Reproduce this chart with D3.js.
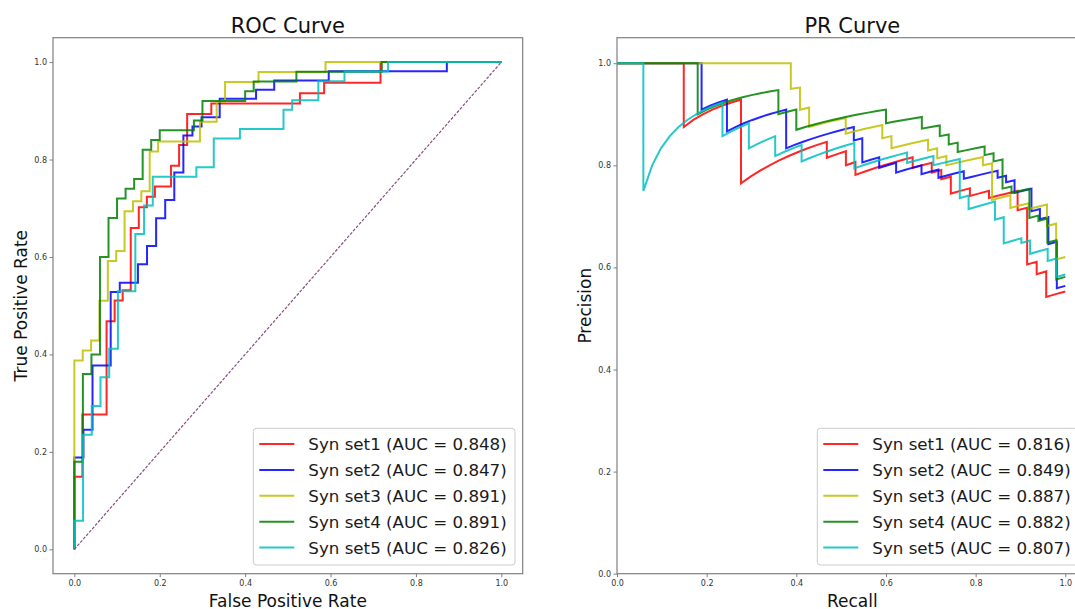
<!DOCTYPE html>
<html>
<head>
<meta charset="utf-8">
<script src="https://cdn.jsdelivr.net/npm/d3@7"></script>
<style>
  body { margin: 0; background: #fff; }
  svg { display: block; font-family: "DejaVu Sans", sans-serif; }
</style>
</head>
<body>
<svg id="chart" width="1075" height="609"></svg>
<script>
const seriesNames = ["Syn set1", "Syn set2", "Syn set3", "Syn set4", "Syn set5"];
const rocAuc = [0.848, 0.847, 0.891, 0.891, 0.826];
const prAuc = [0.816, 0.849, 0.887, 0.882, 0.807];
const nPos = [47, 53, 49, 50, 51];
const nNeg = [53, 47, 51, 50, 49];

// ROC staircases, as counts:
// at false-positive count fpAt[k] the true-positive count climbs to tpTo[k]
const fpAt1 = [0, 1, 4, 5, 6, 7, 8, 9, 10, 12, 13, 14, 17, 28, 31, 38];
const tpTo1 = [7, 13, 22, 24, 25, 31, 33, 34, 35, 37, 39, 42, 43, 44, 45, 47];
const fpAt2 = [0, 1, 2, 4, 5, 7, 8, 9, 10, 11, 12, 13, 14, 16, 20, 22, 28, 41];
const tpTo2 = [10, 13, 20, 28, 29, 31, 33, 36, 38, 41, 45, 46, 47, 49, 50, 51, 52, 53];
const fpAt3 = [0, 1, 2, 3, 4, 5, 6, 7, 8, 9, 10, 15, 17, 18, 22, 30];
const tpTo3 = [19, 20, 21, 25, 29, 30, 34, 35, 36, 40, 41, 43, 45, 47, 48, 49];
const fpAt4 = [0, 1, 2, 3, 4, 5, 6, 7, 8, 9, 10, 14, 15, 20, 21, 26, 36];
const tpTo4 = [9, 18, 20, 30, 34, 36, 37, 38, 41, 42, 43, 44, 46, 47, 48, 49, 50];
const fpAt5 = [0, 1, 2, 3, 4, 5, 7, 8, 9, 14, 16, 19, 24, 25, 28, 31, 36];
const tpTo5 = [3, 12, 15, 18, 21, 27, 33, 36, 39, 40, 43, 44, 46, 47, 49, 50, 51];

const tickVals = [0, 0.2, 0.4, 0.6, 0.8, 1.0];

const fpAts = [fpAt1, fpAt2, fpAt3, fpAt4, fpAt5];
const tpTos = [tpTo1, tpTo2, tpTo3, tpTo4, tpTo5];
const colors = ["#ff0000", "#0000ff", "#bfbf00", "#008000", "#00bfbf"];

// corner points of the roc staircase
function rocPoints(i) {
    const P = nPos[i], N = nNeg[i];
    const pts = [[0, 0]];
    let fp = 0, tp = 0;
    fpAts[i].forEach((f, k) => {
        if (f !== fp) pts.push([f / N, tp / P]);
        fp = f; tp = tpTos[i][k];
        pts.push([fp / N, tp / P]);
    });
    if (fp < N) pts.push([1, 1]);
    return pts;
}

// one pr point per threshold, walking the same ranking (stops at full recall)
function prPoints(i) {
    const P = nPos[i];
    const pts = [[0, 1]];
    let fp = 0, tp = 0;
    fpAts[i].forEach((f, k) => {
        while (fp < f) { fp++; pts.push([tp / P, tp / (tp + fp)]); }
        while (tp < tpTos[i][k]) { tp++; pts.push([tp / P, tp / (tp + fp)]); }
    });
    return pts;
}

const svg = d3.select("#chart");
const axTop = 37.7, axBottom = 573.7;

function drawPanel(opt) {
    const x = d3.scaleLinear().domain(opt.xDomain).range(opt.xRange);
    const y = d3.scaleLinear().domain(opt.yDomain).range([axBottom, axTop]);
    const g = svg.append("g");

    // series
    const line = d3.line().x(d => x(d[0])).y(d => y(d[1]));
    seriesNames.forEach((name, i) => {
        g.append("path")
            .datum(opt.points(i))
            .attr("fill", "none")
            .attr("stroke", colors[i])
            .attr("stroke-opacity", 0.85)
            .attr("stroke-width", 2)
            .attr("d", line);
    });

    if (opt.diagonal) {
        g.append("path")
            .datum([[0, 0], [1, 1]])
            .attr("fill", "none")
            .attr("stroke", "#85507f")
            .attr("stroke-width", 1.2)
            .attr("stroke-dasharray", "3,1.5")
            .attr("d", line);
    }

    // frame
    g.append("rect")
        .attr("x", opt.xRange[0]).attr("y", axTop)
        .attr("width", opt.xRange[1] - opt.xRange[0]).attr("height", axBottom - axTop)
        .attr("fill", "none").attr("stroke", "#808080").attr("stroke-width", 1.2);

    const fmt = d3.format(".1f");
    const xa = g.append("g").attr("transform", `translate(0,${axBottom})`)
        .call(d3.axisBottom(x).tickValues(tickVals).tickFormat(fmt)
            .tickSize(3.5).tickSizeOuter(0).tickPadding(3.5));
    const ya = g.append("g").attr("transform", `translate(${opt.xRange[0]},0)`)
        .call(d3.axisLeft(y).tickValues(tickVals).tickFormat(fmt)
            .tickSize(3.5).tickSizeOuter(0).tickPadding(2.5));
    [xa, ya].forEach(a => {
        a.select(".domain").remove();
        a.selectAll("line").attr("stroke", "#808080");
        a.selectAll("text").attr("font-size", 8).attr("fill", "#333")
            .attr("font-family", "DejaVu Sans, sans-serif");
    });

    const cx = (opt.xRange[0] + opt.xRange[1]) / 2;
    g.append("text").attr("x", cx).attr("y", 33.3)
        .attr("text-anchor", "middle").attr("font-size", 21).attr("fill", "#111")
        .text(opt.title);
    g.append("text").attr("x", cx).attr("y", 606.5)
        .attr("text-anchor", "middle").attr("font-size", 17).attr("fill", "#111")
        .text(opt.xLabel);
    g.append("text")
        .attr("transform", `translate(${opt.yLabelX},${(axTop + axBottom) / 2}) rotate(-90)`)
        .attr("text-anchor", "middle").attr("font-size", 17).attr("fill", "#111")
        .text(opt.yLabel);

    // legend
    const lg = g.append("g");
    lg.append("rect")
        .attr("x", opt.legendX).attr("y", 428.3)
        .attr("width", 261.7).attr("height", 136.7).attr("rx", 3)
        .attr("fill", "#fff").attr("fill-opacity", 0.8)
        .attr("stroke", "#cccccc").attr("stroke-width", 1);
    seriesNames.forEach((name, i) => {
        const yy = 444 + i * 25.9;
        lg.append("line")
            .attr("x1", opt.legendX + 6).attr("x2", opt.legendX + 41)
            .attr("y1", yy).attr("y2", yy)
            .attr("stroke", colors[i]).attr("stroke-opacity", 0.85).attr("stroke-width", 2);
        lg.append("text")
            .attr("x", opt.legendX + 55).attr("y", yy).attr("dy", "0.36em")
            .attr("font-size", 16.7).attr("fill", "#1a1a1a")
            .text(`${name} (AUC = ${d3.format(".3f")(opt.auc[i])})`);
    });
}

drawPanel({
    title: "ROC Curve", xLabel: "False Positive Rate", yLabel: "True Positive Rate",
    xDomain: [-0.05, 1.05], xRange: [53, 522.7], yDomain: [-0.05, 1.05],
    yLabelX: 27, legendX: 253.3, auc: rocAuc, points: rocPoints, diagonal: true
});
drawPanel({
    title: "PR Curve", xLabel: "Recall", yLabel: "Precision",
    xDomain: [0, 1.05], xRange: [617, 1087.7], yDomain: [0, 1.05],
    yLabelX: 591, legendX: 817.3, auc: prAuc, points: prPoints, diagonal: false
});
</script>
</body>
</html>
